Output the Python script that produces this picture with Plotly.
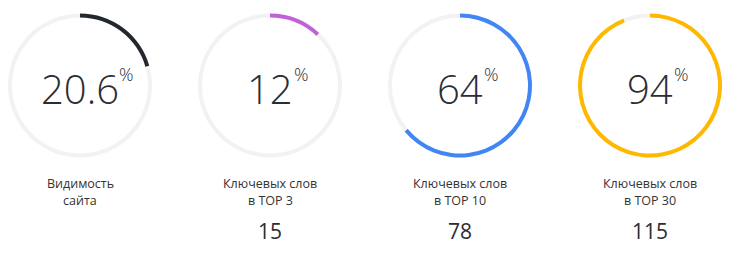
import plotly.graph_objects as go

labels_l1 = ["Видимость", "Ключевых слов", "Ключевых слов", "Ключевых слов"]
labels_l2 = ["сайта", "в TOP 3", "в TOP 10", "в TOP 30"]
percents = [20.6, 12, 64, 94]
percent_text = ["20.6", "12", "64", "94"]
counts = [None, 15, 78, 115]
colors = ["#23282f", "#c062d6", "#4286f4", "#ffb800"]
track_color = "#f2f2f2"

W, H = 751, 255
centers_x = [80, 270, 460, 650]
cy = 85.5
R = 72
ring = 4

fig = go.Figure()
for i, p in enumerate(percents):
    cx = centers_x[i]
    fig.add_trace(go.Pie(
        values=[p, 100 - p],
        marker=dict(colors=[colors[i], track_color], line=dict(width=0)),
        hole=(R - ring) / R,
        sort=False, direction="clockwise", rotation=0,
        textinfo="none", hoverinfo="skip", showlegend=False,
        domain=dict(x=[(cx - R) / W, (cx + R) / W],
                    y=[(H - cy - R) / H, (H - cy + R) / H]),
    ))

def text_width(s):
    return sum(9 if c == "." else 20 for c in s)

ann = []
for i, p in enumerate(percents):
    cx = centers_x[i]
    ann.append(dict(x=cx / W, y=1 - 88 / H, xref="paper", yref="paper",
                    text=percent_text[i], showarrow=False, xanchor="center", yanchor="middle",
                    font=dict(family="Open Sans", size=40, color="#2a2d33", weight=300)))
    ann.append(dict(x=(cx + text_width(percent_text[i]) / 2 + 2) / W, y=1 - 74 / H,
                    xref="paper", yref="paper", text="%", showarrow=False,
                    xanchor="left", yanchor="middle",
                    font=dict(family="Open Sans", size=18, color="#2a2d33", weight=300)))
    ann.append(dict(x=cx / W, y=1 - 183 / H, xref="paper", yref="paper",
                    text=labels_l1[i], showarrow=False, xanchor="center", yanchor="middle",
                    font=dict(family="Open Sans", size=12.5, color="#333333")))
    ann.append(dict(x=cx / W, y=1 - 200 / H, xref="paper", yref="paper",
                    text=labels_l2[i], showarrow=False, xanchor="center", yanchor="middle",
                    font=dict(family="Open Sans", size=12.5, color="#333333")))
    if counts[i] is not None:
        ann.append(dict(x=cx / W, y=1 - 231 / H, xref="paper", yref="paper",
                        text=str(counts[i]), showarrow=False, xanchor="center", yanchor="middle",
                        font=dict(family="Open Sans", size=21, color="#2a2d33")))

fig.update_layout(width=W, height=H, margin=dict(l=0, r=0, t=0, b=0),
                  paper_bgcolor="white", plot_bgcolor="white", annotations=ann)
fig.write_html("out.html")
